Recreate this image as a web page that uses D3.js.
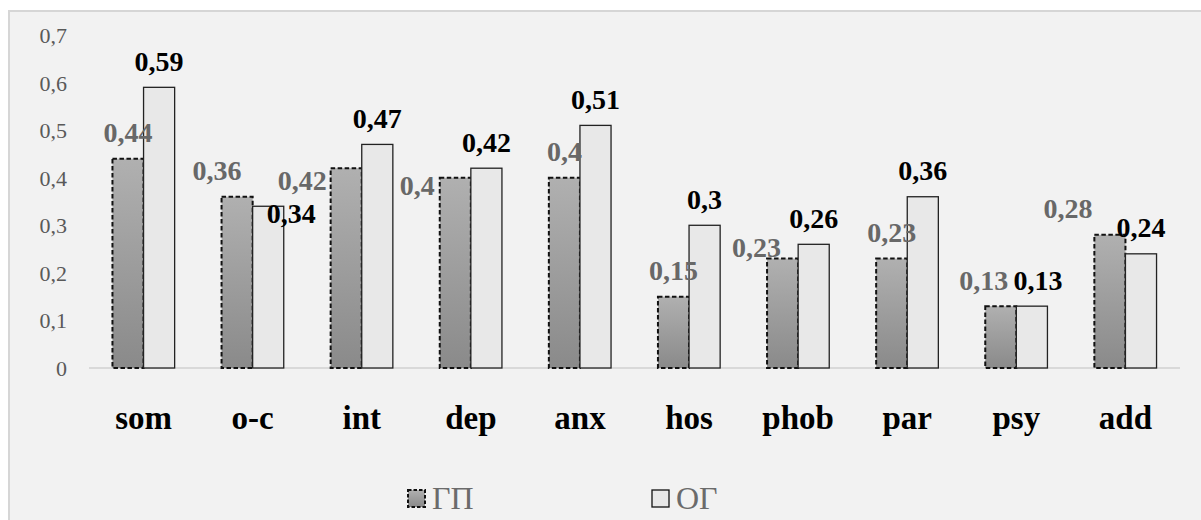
<!DOCTYPE html>
<html>
<head>
<meta charset="utf-8">
<script src="https://cdn.jsdelivr.net/npm/d3@7"></script>
<style>
  html, body { margin: 0; padding: 0; background: #ffffff; }
  svg { display: block; }
</style>
</head>
<body>
<svg id="chart" width="1201" height="520"></svg>
<script>
const categories = ["som", "o-c", "int", "dep", "anx", "hos", "phob", "par", "psy", "add"];
const seriesNames = ["ГП", "ОГ"];
const gpValues = [0.44, 0.36, 0.42, 0.40, 0.40, 0.15, 0.23, 0.23, 0.13, 0.28];
const ogValues = [0.59, 0.34, 0.47, 0.42, 0.51, 0.30, 0.26, 0.36, 0.13, 0.24];
const yTicks = [0, 0.1, 0.2, 0.3, 0.4, 0.5, 0.6, 0.7];

// Hand-placed label offsets [dx, dy] where labels were moved off the bar tops
const gpLabelShift = [[0, 0], [-20, 0], [-44, 38], [-38, 34], [0, 0], [0, 0], [-26, 15], [0, 0], [-17, 0], [-42, 0]];
const ogLabelShift = [[0, 0], [23, 33], [0, 0], [0, 0], [0, 0], [0, 0], [0, 0], [0, 0], [6, 0], [0, 0]];

const SERIF = "'Liberation Serif', 'Times New Roman', serif";

const svg = d3.select("#chart");
const W = 1201, H = 520;

// Chart frame
svg.append("rect")
  .attr("x", 9).attr("y", 11)
  .attr("width", W).attr("height", H)
  .attr("fill", "#f2f2f2")
  .attr("stroke", "#d6d6d6")
  .attr("stroke-width", 2);

const plot = { left: 89, right: 1180, top: 35, bottom: 368 };

const x0 = d3.scaleBand()
  .domain(categories)
  .range([plot.left, plot.right])
  .paddingInner(0.43)
  .paddingOuter(0.215);

const x1 = d3.scaleBand()
  .domain(seriesNames)
  .range([0, x0.bandwidth()]);

const y = d3.scaleLinear()
  .domain([0, 0.7])
  .range([plot.bottom, plot.top]);

const fmt = v => String(+v.toFixed(2)).replace(".", ",");

// Gradient for the ГП bars
const defs = svg.append("defs");
const grad = defs.append("linearGradient")
  .attr("id", "gpFill").attr("x1", 0).attr("y1", 0).attr("x2", 0).attr("y2", 1);
grad.append("stop").attr("offset", "0%").attr("stop-color", "#b0b0b0");
grad.append("stop").attr("offset", "100%").attr("stop-color", "#8a8a8a");

// Y axis tick labels (no axis line)
const yAxis = d3.axisLeft(y)
  .tickValues(yTicks)
  .tickFormat(fmt)
  .tickSize(0)
  .tickPadding(0);
const yG = svg.append("g")
  .attr("transform", `translate(${plot.left - 22},0)`)
  .call(yAxis)
  .attr("font-family", null)
  .attr("font-size", null);
yG.select(".domain").remove();
yG.selectAll("text")
  .style("font-family", SERIF)
  .style("font-size", "22px")
  .attr("fill", "#595959")
  .attr("dy", "0.34em");

// Baseline
svg.append("line")
  .attr("x1", plot.left).attr("x2", plot.right)
  .attr("y1", y(0)).attr("y2", y(0))
  .attr("stroke", "#d0d0d0").attr("stroke-width", 1.5);

const rows = categories.map((c, i) => ({ cat: c, i, gp: gpValues[i], og: ogValues[i] }));

const groups = svg.append("g").selectAll("g")
  .data(rows).join("g")
  .attr("transform", d => `translate(${x0(d.cat)},0)`);

// ГП bars: gradient fill, dashed outline
groups.append("rect")
  .attr("x", x1("ГП"))
  .attr("y", d => y(d.gp))
  .attr("width", x1.bandwidth())
  .attr("height", d => y(0) - y(d.gp))
  .attr("fill", "url(#gpFill)")
  .attr("stroke", "#111")
  .attr("stroke-width", 2)
  .attr("stroke-dasharray", "4.5,2.5");

// ОГ bars: light fill, solid outline
groups.append("rect")
  .attr("x", x1("ОГ"))
  .attr("y", d => y(d.og))
  .attr("width", x1.bandwidth())
  .attr("height", d => y(0) - y(d.og))
  .attr("fill", "#e8e8e8")
  .attr("stroke", "#222")
  .attr("stroke-width", 1.3);

// Value labels
groups.append("text")
  .attr("x", d => x1("ГП") + x1.bandwidth() / 2 + gpLabelShift[d.i][0])
  .attr("y", d => y(d.gp) - 16.5 + gpLabelShift[d.i][1])
  .attr("text-anchor", "middle")
  .style("font-family", SERIF)
  .style("font-size", "28px")
  .style("font-weight", "bold")
  .attr("fill", "#686868")
  .text(d => fmt(d.gp));

groups.append("text")
  .attr("x", d => x1("ОГ") + x1.bandwidth() / 2 + ogLabelShift[d.i][0])
  .attr("y", d => y(d.og) - 16.5 + ogLabelShift[d.i][1])
  .attr("text-anchor", "middle")
  .style("font-family", SERIF)
  .style("font-size", "28px")
  .style("font-weight", "bold")
  .attr("fill", "#000")
  .text(d => fmt(d.og));

// Category labels
const xAxis = d3.axisBottom(x0).tickSize(0).tickPadding(0);
const xG = svg.append("g")
  .attr("transform", `translate(0,${y(0)})`)
  .call(xAxis)
  .attr("font-family", null)
  .attr("font-size", null);
xG.select(".domain").remove();
xG.selectAll("text")
  .style("font-family", SERIF)
  .style("font-size", "33px")
  .style("font-weight", "bold")
  .attr("fill", "#000")
  .attr("dy", 0)
  .attr("y", 61);

// Legend
const legendItems = [
  { name: seriesNames[0], x: 408, fill: "url(#gpFill)", dash: "3.5,2", sw: 2 },
  { name: seriesNames[1], x: 652, fill: "#e8e8e8", dash: null, sw: 1.3 }
];
const lg = svg.append("g").selectAll("g")
  .data(legendItems).join("g")
  .attr("transform", d => `translate(${d.x},490)`);
lg.append("rect")
  .attr("width", 17).attr("height", 17)
  .attr("fill", d => d.fill)
  .attr("stroke", "#111")
  .attr("stroke-width", d => d.sw)
  .attr("stroke-dasharray", d => d.dash);
lg.append("text")
  .attr("x", 24).attr("y", 19)
  .style("font-family", SERIF)
  .style("font-size", "32px")
  .attr("fill", "#6b6b6b")
  .text(d => d.name);
</script>
</body>
</html>
